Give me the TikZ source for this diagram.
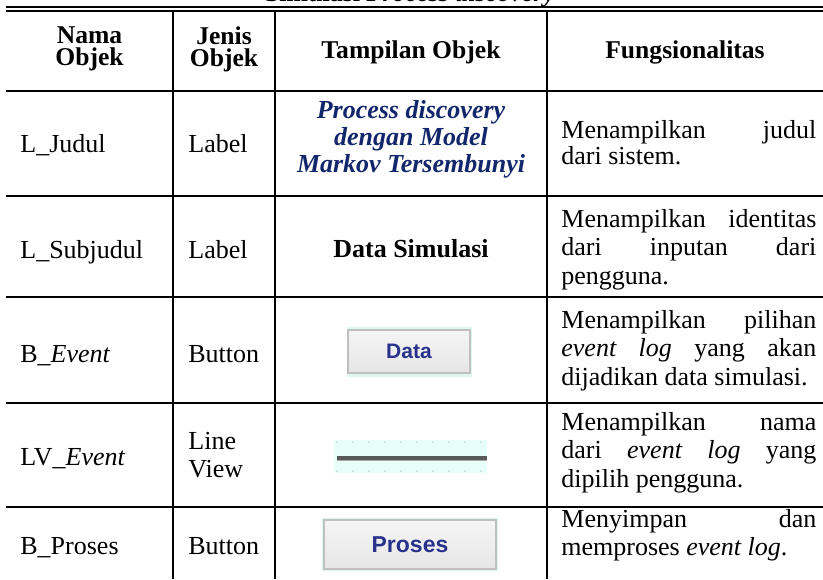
\documentclass[tikz,border=0pt]{standalone}
\usepackage{fontspec}
\setmainfont{Liberation Serif}
\newfontfamily\btnfont{Liberation Sans}
\usepackage{xcolor}
\definecolor{judulblue}{RGB}{18,38,108}
\definecolor{btnblue}{RGB}{40,50,140}
\definecolor{btnedge}{RGB}{192,192,192}
\definecolor{btnfill}{RGB}{230,230,230}
\definecolor{glowcyan}{RGB}{222,248,240}
\definecolor{lvfill}{RGB}{230,255,248}
\definecolor{dotgray}{RGB}{200,215,210}

\begin{document}
\begin{tikzpicture}[x=0.5pt,y=-0.5pt,
    body/.style={inner sep=0pt,anchor=base west,font=\fontsize{13}{14}\selectfont},
    head/.style={inner sep=0pt,align=center,font=\fontsize{12.8}{11}\selectfont\bfseries},
    fungsi/.style={inner sep=0pt,anchor=north west,text width=127.5pt,align=justify,
        font=\fontsize{13}{14.2}\selectfont},
    rule/.style={line width=1pt},
    btn/.style={draw=btnedge,line width=0.7pt,top color=btnfill!40,bottom color=btnfill,
        inner sep=0pt,text=btnblue,font=\btnfont\bfseries}]
    \useasboundingbox (0,0) rectangle (823,579);
    % Caption, cut off by the page edge
    \node[inner sep=0pt,anchor=base,font=\fontsize{13}{14}\selectfont\bfseries] (caption)
        at (410,1.5) {Simulasi \textit{Process discovery}};
    % Draw the rules of the table
    \draw[line width=1.1pt] (6,7) -- (823,7);
    \draw[line width=0.6pt] (6,11) -- (823,11);
    \foreach \y in {91,196,297,403,507} {
        \draw[rule] (6,\y) -- (823,\y);
    }
    \foreach \x in {173,275,547} {
        \draw[rule] (\x,11) -- (\x,579);
    }
    % Header
    \node[head] (hNama) at (89.5,49) {Nama\\Objek};
    \node[head] (hJenis) at (224,49) {Jenis\\Objek};
    \node[head,anchor=base] (hTampil) at (411,58) {Tampilan Objek};
    \node[head,anchor=base] (hFungsi) at (685,58) {Fungsionalitas};
    % Nama objek and jenis objek
    \node[body] (nJudul) at (20,152) {L\_Judul};
    \node[body] (jJudul) at (188,152) {Label};
    \node[body] (nSub) at (20,258) {L\_Subjudul};
    \node[body] (jSub) at (188,258) {Label};
    \node[body] (nEvent) at (20,362) {B\_\textit{Event}};
    \node[body] (jEvent) at (188,362) {Button};
    \node[body] (nLV) at (20,465) {LV\_\textit{Event}};
    \node[body,anchor=north west,align=left] (jLV) at (188,432) {Line\\View};
    \node[body] (nProses) at (20,554) {B\_Proses};
    \node[body] (jProses) at (188,554) {Button};
    % Tampilan objek
    \node[inner sep=0pt,anchor=north,align=center,text=judulblue,
        font=\fontsize{13}{13.5}\selectfont\bfseries\itshape] (tJudul)
        at (411,100) {Process discovery\\dengan Model\\Markov Tersembunyi};
    \node[inner sep=0pt,anchor=base,font=\fontsize{13}{14}\selectfont\bfseries] (tSub)
        at (411,257) {Data Simulasi};
    \fill[glowcyan] (347,327) rectangle (472,377);
    \node[btn,minimum width=61pt,minimum height=21.5pt,font=\btnfont\bfseries\fontsize{10.5}{12}\selectfont]
        (tEvent) at (409,351.5) {Data};
    \fill[lvfill] (334,440) rectangle (487,473);
    \foreach \x in {337,353,...,487} {
        \fill[dotgray] (\x,442) circle (0.5pt);
        \fill[dotgray] (\x,471) circle (0.5pt);
    }
    \draw[line width=2pt,black!65] (337,458) -- (487,458);
    \draw[line width=0.6pt,black!35] (337,460.5) -- (487,460.5);
    \fill[glowcyan] (322,518) rectangle (498,571);
    \node[btn,minimum width=86pt,minimum height=24.5pt,font=\btnfont\bfseries\fontsize{11.5}{13}\selectfont]
        (tProses) at (410,544.5) {Proses};
    % Fungsionalitas
    \node[fungsi,font=\fontsize{13}{11.4}\selectfont] (fJudul) at (561,120)
        {\lineskiplimit=-10pt\relax Menampilkan judul\linebreak dari sistem.};
    \node[fungsi] (fSub) at (561,209)
        {Menampilkan identitas\linebreak dari inputan dari\linebreak pengguna.};
    \node[fungsi] (fEvent) at (561,310)
        {Menampilkan pilihan\linebreak \textit{event log} yang akan\linebreak dijadikan data simulasi.};
    \node[fungsi] (fLV) at (561,412)
        {Menampilkan nama\linebreak dari \textit{event log} yang\linebreak dipilih pengguna.};
    \node[fungsi] (fProses) at (561,509)
        {Menyimpan dan\linebreak memproses \textit{event log}.};
\end{tikzpicture}
\end{document}
